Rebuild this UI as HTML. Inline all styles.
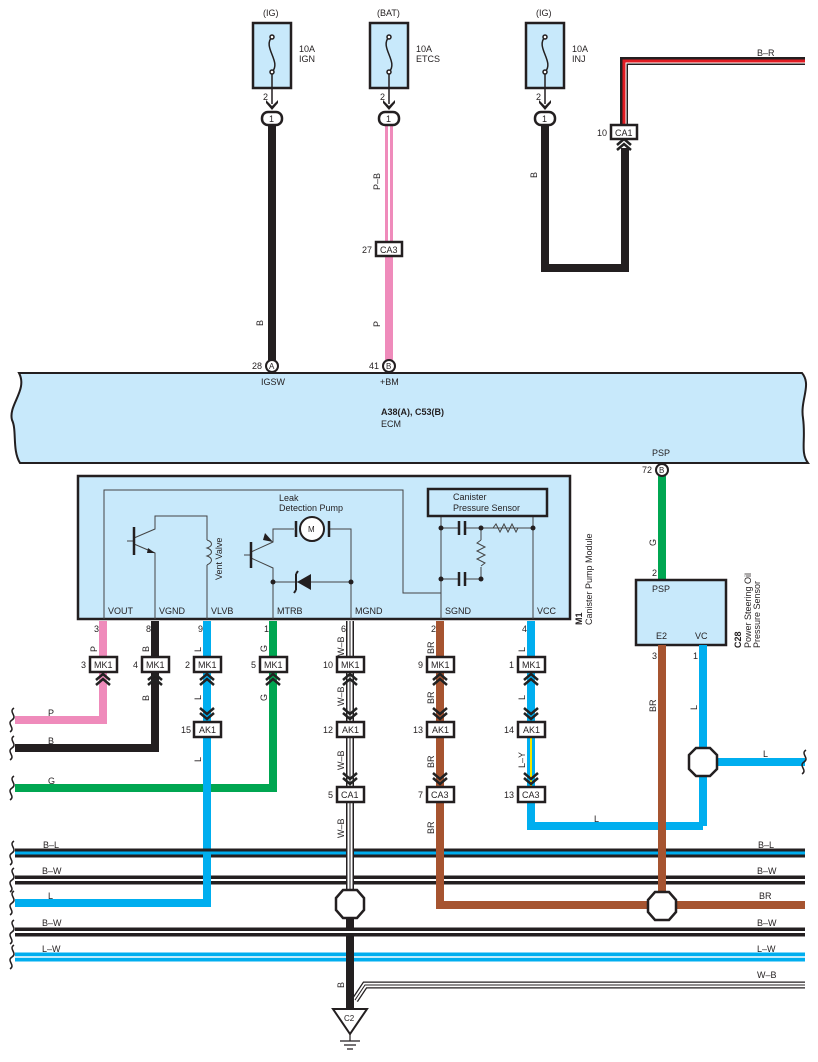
<!DOCTYPE html>
<html><head><meta charset="utf-8"><style>
html,body{margin:0;padding:0;background:#fff}
svg{display:block;font-family:"Liberation Sans",Arial,sans-serif}
</style></head><body>
<svg width="818" height="1062" viewBox="0 0 818 1062" xmlns="http://www.w3.org/2000/svg">
<defs>
<g id="upch"><path d="M-7,8 L0,2 L7,8 M-7,13 L0,7 L7,13" fill="none" stroke="#222" stroke-width="2.5"/></g>
<g id="dnch"><path d="M-7,0 L0,6 L7,0 M-7,5 L0,11 L7,5" fill="none" stroke="#222" stroke-width="2.5"/></g>
</defs>
<g font-size="9" fill="#231f20">

<!-- Fuses -->
<g stroke="#231f20" stroke-width="2.5" fill="#c8e9fb">
<rect x="253" y="23" width="38" height="65"/>
<rect x="370" y="23" width="38" height="65"/>
<rect x="526" y="23" width="38" height="65"/>
</g>
<g fill="none" stroke="#231f20" stroke-width="1.5">
<path d="M272,37 C262,47 282,62 272,72"/><circle cx="272" cy="37" r="2" fill="#fff"/><circle cx="272" cy="72" r="2" fill="#fff"/>
<path d="M389,37 C379,47 399,62 389,72"/><circle cx="389" cy="37" r="2" fill="#fff"/><circle cx="389" cy="72" r="2" fill="#fff"/>
<path d="M545,37 C535,47 555,62 545,72"/><circle cx="545" cy="37" r="2" fill="#fff"/><circle cx="545" cy="72" r="2" fill="#fff"/>
<path d="M272,74 V104 M389,74 V104 M545,74 V104"/>
</g>
<g fill="#231f20"><path d="M266,100 L272,106 L278,100 L278,103 L272,110 L266,103Z"/><path d="M383,100 L389,106 L395,100 L395,103 L389,110 L383,103Z"/><path d="M539,100 L545,106 L551,100 L551,103 L545,110 L539,103Z"/></g>
<text x="263" y="16">(IG)</text><text x="377" y="16">(BAT)</text><text x="536" y="16">(IG)</text>
<text x="299" y="52">10A</text><text x="299" y="62">IGN</text>
<text x="416" y="52">10A</text><text x="416" y="62">ETCS</text>
<text x="572" y="52">10A</text><text x="572" y="62">INJ</text>
<text x="263" y="100">2</text><text x="380" y="100">2</text><text x="536" y="100">2</text>

<!-- top wires -->
<path d="M272,125 V360" stroke="#231f20" stroke-width="8" fill="none"/>
<path d="M389,125 V242" stroke="#ef8bbb" stroke-width="8" fill="none"/>
<path d="M389,125 V242" stroke="#fff" stroke-width="2" fill="none"/>
<path d="M389,256 V360" stroke="#ef8bbb" stroke-width="8" fill="none"/>
<path d="M545,125 V268 H625 V148" stroke="#231f20" stroke-width="8" fill="none" stroke-linejoin="miter"/>
<path d="M624,125 V61 H805" stroke="#231f20" stroke-width="8" fill="none"/>
<path d="M624,125 V61 H805" stroke="#e01b22" stroke-width="3" fill="none"/>
<path d="M626,125 V63 H805" stroke="#fff" stroke-width="1" fill="none"/>
<g stroke="#231f20" stroke-width="2.5" fill="#fff">
<rect x="262" y="112" width="20" height="13" rx="6"/><rect x="379" y="112" width="20" height="13" rx="6"/><rect x="535" y="112" width="20" height="13" rx="6"/>
</g>
<text x="269" y="122">1</text><text x="386" y="122">1</text><text x="542" y="122">1</text>
<use href="#upch" x="624" y="137"/>
<rect x="611" y="125" width="26" height="14" fill="#fff" stroke="#231f20" stroke-width="2.5"/><text x="615" y="136">CA1</text><text x="597" y="136">10</text>
<rect x="376" y="242" width="26" height="14" fill="#fff" stroke="#231f20" stroke-width="2.5"/><text x="380" y="253">CA3</text><text x="362" y="253">27</text>
<text x="263" y="326" transform="rotate(-90 263 326)">B</text>
<text x="380" y="190" transform="rotate(-90 380 190)">P–B</text>
<text x="380" y="327" transform="rotate(-90 380 327)">P</text>
<text x="537" y="178" transform="rotate(-90 537 178)">B</text>
<text x="757" y="56">B–R</text>

<!-- ECM -->
<path d="M19,373 H802 C812,385 800,400 803,418 C806,440 800,452 808,463 H20 C12,450 17,430 12,420 C8,405 28,390 19,373Z" fill="#c8e9fb" stroke="#231f20" stroke-width="2"/>
<circle cx="272" cy="366" r="6" fill="#fff" stroke="#231f20" stroke-width="2"/><text x="269" y="369" font-size="8">A</text><text x="252" y="369">28</text>
<circle cx="389" cy="366" r="6" fill="#fff" stroke="#231f20" stroke-width="2"/><text x="386" y="369" font-size="8">B</text><text x="369" y="369">41</text>
<text x="261" y="385">IGSW</text><text x="380" y="385">+BM</text>
<text x="381" y="415" font-weight="bold">A38(A), C53(B)</text><text x="381" y="427">ECM</text>
<text x="652" y="456">PSP</text>
<path d="M662,476 V580" stroke="#00a651" stroke-width="8"/>
<circle cx="662" cy="470" r="6" fill="#fff" stroke="#231f20" stroke-width="2"/><text x="659" y="473" font-size="8">B</text><text x="642" y="473">72</text>
<text x="656" y="546" transform="rotate(-90 656 546)">G</text><text x="652" y="576">2</text>

<!-- PSP sensor -->
<rect x="636" y="580" width="90" height="65" fill="#c8e9fb" stroke="#231f20" stroke-width="2.5"/>
<text x="652" y="592">PSP</text><text x="656" y="639">E2</text><text x="695" y="639">VC</text>
<text x="741" y="648" transform="rotate(-90 741 648)" font-weight="bold">C28</text>
<text x="751" y="648" transform="rotate(-90 751 648)">Power Steering Oil</text>
<text x="760" y="648" transform="rotate(-90 760 648)">Pressure Sensor</text>
<text x="652" y="659">3</text><text x="693" y="659">1</text>

<!-- M1 module -->
<rect x="78" y="476" width="492" height="143" fill="#c8e9fb" stroke="#231f20" stroke-width="2.5"/>
<g fill="none" stroke="#444" stroke-width="1">
<path d="M104,619 V490 H403 V593 H441"/>
<path d="M155,619 V553 L134,544 M134,538 L155,529 V516 H207 V540 M207,565 V619 M127,541 H134"/>
<path d="M207,540 c6,2 6,6 0,8 c6,2 6,6 0,8 c6,2 6,6 0,9"/>
<path d="M273,619 V568 L251,558 M251,552 L273,542 V529 H294 M328,529 H351 V619 M244,555 H251"/>
<path d="M273,582 H351"/>
<path d="M441,619 V516 M533,619 V516"/>
<path d="M441,528 H459 M465,528 H533 M441,579 H459 M465,579 H481 V567 M481,540 V528"/>
<path d="M481,528 H493 l3,-4 l4,8 l4,-8 l4,8 l4,-8 l4,8 l2,-4 H533"/>
<path d="M481,540 l-4,3 l8,4 l-8,4 l8,4 l-8,4 l8,4 l-4,3"/>
</g>
<g stroke="#231f20" stroke-width="2.5" fill="none">
<path d="M134,527 V555 M251,542 V568"/>
<path d="M459,521 V535 M465,521 V535 M459,572 V586 M465,572 V586"/>
<path d="M296,521 V537 M329,521 V537"/>
</g>
<path d="M148,548 L155,553 L147,553Z M265,533 L273,542 L263,540Z" fill="#231f20"/>
<circle cx="312" cy="529" r="12" fill="#fff" stroke="#231f20" stroke-width="2"/><text x="308" y="532" font-size="8">M</text>
<path d="M311,574 V590 L297,582Z" fill="#231f20"/><path d="M296,574 V590 M296,574 l2,-3 M296,590 l-2,3" stroke="#231f20" stroke-width="2" fill="none"/>
<g fill="#231f20"><circle cx="273" cy="582" r="2.5"/><circle cx="351" cy="582" r="2.5"/><circle cx="441" cy="528" r="2.5"/><circle cx="481" cy="528" r="2.5"/><circle cx="533" cy="528" r="2.5"/><circle cx="441" cy="579" r="2.5"/><circle cx="481" cy="579" r="2.5"/></g>
<rect x="428" y="489" width="119" height="27" fill="#c8e9fb" stroke="#231f20" stroke-width="2.5"/>
<text x="453" y="500">Canister</text><text x="453" y="511">Pressure Sensor</text>
<text x="279" y="501">Leak</text><text x="279" y="511">Detection Pump</text>
<text x="222" y="580" transform="rotate(-90 222 580)">Vent Valve</text>
<text x="108" y="614">VOUT</text><text x="159" y="614">VGND</text><text x="211" y="614">VLVB</text><text x="277" y="614">MTRB</text><text x="355" y="614">MGND</text><text x="445" y="614">SGND</text><text x="537" y="614">VCC</text>
<text x="582" y="625" transform="rotate(-90 582 625)" font-weight="bold">M1</text>
<text x="592" y="625" transform="rotate(-90 592 625)">Canister Pump Module</text>

<!-- lower wires -->
<g fill="none" stroke-linejoin="miter">
<path d="M103,621 V720 H15" stroke="#ef8bbb" stroke-width="8"/>
<path d="M155,621 V748 H15" stroke="#231f20" stroke-width="8"/>
<path d="M273,621 V788 H15" stroke="#00a651" stroke-width="8"/>
<path d="M207,621 V903 H15" stroke="#00aeef" stroke-width="8"/>
<path d="M440,621 V905 H805" stroke="#a65430" stroke-width="8"/>
<path d="M531,621 V826 H703" stroke="#00aeef" stroke-width="8"/>
<path d="M703,645 V826 M703,762 H805" stroke="#00aeef" stroke-width="8"/>
<path d="M662,645 V905" stroke="#a65430" stroke-width="8"/>
<path d="M531,736 V787" stroke="#f5e400" stroke-width="2"/>
<path d="M350,621 V890" stroke="#231f20" stroke-width="8"/>
<path d="M350,621 V890" stroke="#fff" stroke-width="5"/>
<path d="M350,621 V890" stroke="#231f20" stroke-width="1"/>
<path d="M350,915 V1008" stroke="#231f20" stroke-width="8"/>
</g>
<!-- bus lines -->
<g fill="none">
<path d="M15,853 H805" stroke="#231f20" stroke-width="9"/><path d="M15,853 H805" stroke="#00aeef" stroke-width="3"/>
<path d="M15,880 H805" stroke="#231f20" stroke-width="9"/><path d="M15,880 H805" stroke="#fff" stroke-width="2"/>
<path d="M15,932 H805" stroke="#231f20" stroke-width="9"/><path d="M15,932 H805" stroke="#fff" stroke-width="2"/>
<path d="M15,957 H805" stroke="#00aeef" stroke-width="9"/><path d="M15,957 H805" stroke="#fff" stroke-width="1.5"/>
<path d="M355,1000 L365,985 H805" stroke="#231f20" stroke-width="7"/><path d="M355,1000 L365,985 H805" stroke="#fff" stroke-width="4.5"/><path d="M355,1000 L365,985 H805" stroke="#231f20" stroke-width="1"/>
<path d="M207,853 V903" stroke="#00aeef" stroke-width="8"/>
<path d="M350,840 V890" stroke="#231f20" stroke-width="8"/><path d="M350,840 V890" stroke="#fff" stroke-width="5"/><path d="M350,840 V890" stroke="#231f20" stroke-width="1"/>
<path d="M440,840 V905 M662,840 V905" stroke="#a65430" stroke-width="8"/>
<path d="M350,940 V1008" stroke="#231f20" stroke-width="8"/>
</g>
<g fill="none" stroke="#231f20" stroke-width="1.5">
<path d="M14,708 c-6,4 4,8 -2,12 c-6,4 4,8 -2,12 M14,736 c-6,4 4,8 -2,12 c-6,4 4,8 -2,12 M14,776 c-6,4 4,8 -2,12 c-6,4 4,8 -2,12"/>
<path d="M14,841 c-6,4 4,8 -2,12 c-6,4 4,8 -2,12 M14,868 c-6,4 4,8 -2,12 c-6,4 4,8 -2,12 M14,891 c-6,4 4,8 -2,12 c-6,4 4,8 -2,12 M14,920 c-6,4 4,8 -2,12 c-6,4 4,8 -2,12 M14,945 c-6,4 4,8 -2,12 c-6,4 4,8 -2,12"/>
<path d="M806,750 c-6,4 4,8 -2,12 c-6,4 4,8 -2,12"/>
</g>
<!-- splices -->
<g fill="#fff" stroke="#231f20" stroke-width="2.5">
<path d="M343,890 H357 L364,898 V910 L357,918 H343 L336,910 V898Z"/>
<path d="M655,892 H669 L676,900 V912 L669,920 H655 L648,912 V900Z"/>
<path d="M696,748 H710 L717,755 V769 L710,776 H696 L689,769 V755Z"/>
</g>
<!-- ground -->
<path d="M333,1009 H367 L350,1034Z" fill="#fff" stroke="#231f20" stroke-width="2"/>
<text x="344" y="1021" font-size="8">C2</text>
<path d="M350,1034 V1041 M340,1041 H360 M344,1045 H356 M347,1049 H353" stroke="#231f20" stroke-width="1.2"/>

<!-- connectors -->
<g stroke="#231f20" stroke-width="2.5" fill="#fff">
<rect x="90" y="657" width="27" height="15"/><rect x="142" y="657" width="27" height="15"/><rect x="194" y="657" width="27" height="15"/><rect x="260" y="657" width="27" height="15"/><rect x="337" y="657" width="27" height="15"/><rect x="427" y="657" width="27" height="15"/><rect x="518" y="657" width="27" height="15"/>
<rect x="194" y="722" width="27" height="15"/><rect x="337" y="722" width="27" height="15"/><rect x="427" y="722" width="27" height="15"/><rect x="518" y="722" width="27" height="15"/>
<rect x="337" y="787" width="27" height="15"/><rect x="427" y="787" width="27" height="15"/><rect x="518" y="787" width="27" height="15"/>
</g>
<g>
<text x="94" y="668">MK1</text><text x="146" y="668">MK1</text><text x="198" y="668">MK1</text><text x="264" y="668">MK1</text><text x="341" y="668">MK1</text><text x="431" y="668">MK1</text><text x="522" y="668">MK1</text>
<text x="199" y="733">AK1</text><text x="342" y="733">AK1</text><text x="432" y="733">AK1</text><text x="523" y="733">AK1</text>
<text x="341" y="798">CA1</text><text x="431" y="798">CA3</text><text x="522" y="798">CA3</text>
<text x="81" y="668">3</text><text x="133" y="668">4</text><text x="185" y="668">2</text><text x="251" y="668">5</text><text x="323" y="668">10</text><text x="418" y="668">9</text><text x="509" y="668">1</text>
<text x="181" y="733">15</text><text x="323" y="733">12</text><text x="413" y="733">13</text><text x="504" y="733">14</text>
<text x="328" y="798">5</text><text x="418" y="798">7</text><text x="504" y="798">13</text>
<text x="94" y="632">3</text><text x="146" y="632">8</text><text x="198" y="632">9</text><text x="264" y="632">1</text><text x="341" y="632">6</text><text x="431" y="632">2</text><text x="522" y="632">4</text>
</g>
<use href="#upch" x="103" y="672"/><use href="#upch" x="155" y="672"/><use href="#upch" x="207" y="672"/><use href="#upch" x="273" y="672"/><use href="#upch" x="350" y="672"/><use href="#upch" x="440" y="672"/><use href="#upch" x="531" y="672"/>
<use href="#dnch" x="207" y="708"/><use href="#dnch" x="350" y="708"/><use href="#dnch" x="440" y="708"/><use href="#dnch" x="531" y="708"/>
<use href="#dnch" x="350" y="773"/><use href="#dnch" x="440" y="773"/><use href="#dnch" x="531" y="773"/>

<!-- wire labels -->
<text x="97" y="652" transform="rotate(-90 97 652)">P</text>
<text x="149" y="652" transform="rotate(-90 149 652)">B</text>
<text x="201" y="652" transform="rotate(-90 201 652)">L</text>
<text x="267" y="652" transform="rotate(-90 267 652)">G</text>
<text x="344" y="656" transform="rotate(-90 344 656)">W–B</text>
<text x="434" y="654" transform="rotate(-90 434 654)">BR</text>
<text x="525" y="652" transform="rotate(-90 525 652)">L</text>
<text x="149" y="701" transform="rotate(-90 149 701)">B</text>
<text x="201" y="700" transform="rotate(-90 201 700)">L</text>
<text x="267" y="701" transform="rotate(-90 267 701)">G</text>
<text x="344" y="706" transform="rotate(-90 344 706)">W–B</text>
<text x="434" y="704" transform="rotate(-90 434 704)">BR</text>
<text x="525" y="700" transform="rotate(-90 525 700)">L</text>
<text x="201" y="762" transform="rotate(-90 201 762)">L</text>
<text x="344" y="770" transform="rotate(-90 344 770)">W–B</text>
<text x="434" y="768" transform="rotate(-90 434 768)">BR</text>
<text x="525" y="768" transform="rotate(-90 525 768)">L–Y</text>
<text x="344" y="838" transform="rotate(-90 344 838)">W–B</text>
<text x="434" y="834" transform="rotate(-90 434 834)">BR</text>
<text x="656" y="712" transform="rotate(-90 656 712)">BR</text>
<text x="697" y="710" transform="rotate(-90 697 710)">L</text>
<text x="344" y="988" transform="rotate(-90 344 988)">B</text>
<text x="48" y="716">P</text><text x="48" y="744">B</text><text x="48" y="784">G</text>
<text x="594" y="822">L</text><text x="763" y="757">L</text>
<text x="43" y="848">B–L</text><text x="758" y="848">B–L</text>
<text x="42" y="874">B–W</text><text x="757" y="874">B–W</text>
<text x="48" y="899">L</text><text x="759" y="899">BR</text>
<text x="42" y="926">B–W</text><text x="757" y="926">B–W</text>
<text x="42" y="952">L–W</text><text x="757" y="952">L–W</text>
<text x="757" y="978">W–B</text>
</g>
</svg>
</body></html>
